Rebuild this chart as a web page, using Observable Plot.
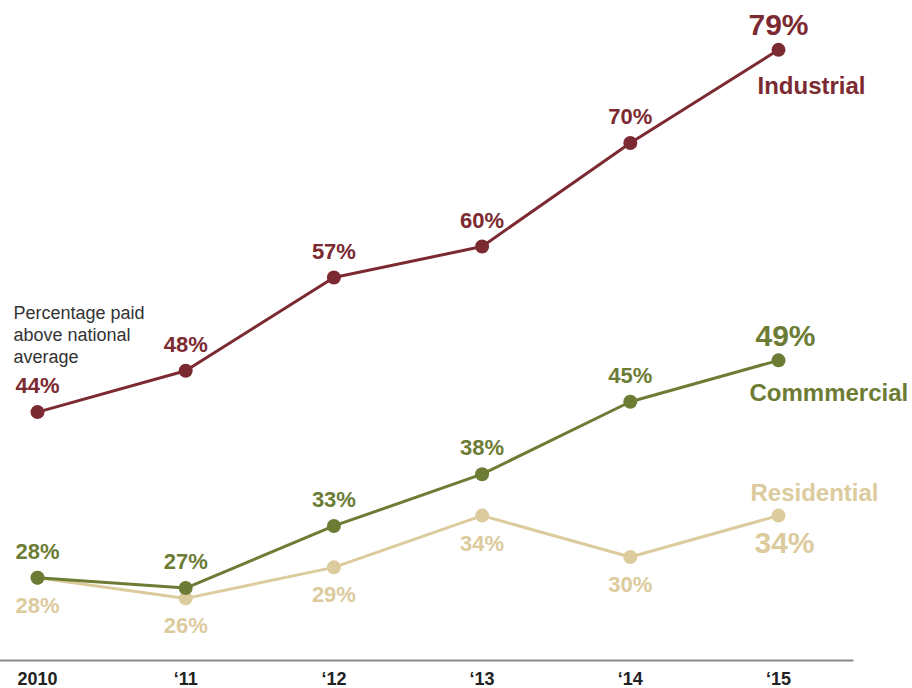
<!DOCTYPE html>
<html>
<head>
<meta charset="utf-8">
<script src="https://cdn.jsdelivr.net/npm/d3@7"></script>
<script src="https://cdn.jsdelivr.net/npm/@observablehq/plot@0.6"></script>
<style>
  html, body { margin: 0; padding: 0; background: #fff; }
  #chart svg { display: block; }
</style>
</head>
<body>
<div id="chart"></div>
<script>
const years = [2010, 2011, 2012, 2013, 2014, 2015];
const yearLabels = ["2010", "\u201811", "\u201812", "\u201813", "\u201814", "\u201815"];
const industrial = [44, 48, 57, 60, 70, 79];
const commercial = [28, 27, 33, 38, 45, 49];
const residential = [28, 26, 29, 34, 30, 34];
const seriesNames = ["Industrial", "Commmercial", "Residential"];
const seriesColors = ["#7c2a31", "#6d7c35", "#dccb9d"];
const annotation = "Percentage paid\nabove national\naverage";

const toRows = (vals, name) => years.map((yr, i) => ({year: yr, value: vals[i], series: name}));
const ind = toRows(industrial, seriesNames[0]);
const com = toRows(commercial, seriesNames[1]);
const res = toRows(residential, seriesNames[2]);
const last = years[years.length - 1];
const notLast = d => d.year !== last;
const isLast = d => d.year === last;
const fmt = d => `${d.value}%`;

function seriesMarks(rows, color, labelDy, finalDx, finalDy) {
  return [
    Plot.line(rows, {x: "year", y: "value", stroke: color, strokeWidth: 3}),
    Plot.dot(rows, {x: "year", y: "value", fill: color, r: 7}),
    Plot.text(rows.filter(notLast), {x: "year", y: "value", text: fmt, fill: color, dy: labelDy, fontSize: 22, fontWeight: "bold"}),
    Plot.text(rows.filter(isLast), {x: "year", y: "value", text: fmt, fill: color, dx: finalDx, dy: finalDy, fontSize: 30, fontWeight: "bold"})
  ];
}

const chart = Plot.plot({
  width: 912,
  height: 688,
  marginLeft: 0,
  marginRight: 60,
  marginTop: 39,
  marginBottom: 28,
  style: {fontFamily: "'Liberation Sans', Arial, Helvetica, sans-serif", background: "#fff"},
  x: {type: "linear", domain: [years[0], last], range: [37, 778], label: null, axis: null},
  y: {domain: [20, 80], axis: null, label: null},
  marks: [
    Plot.frame({anchor: "bottom", stroke: "#8a8a8a", strokeWidth: 2}),
    Plot.axisX({
      ticks: years,
      tickFormat: (d) => yearLabels[years.indexOf(d)],
      tickSize: 0,
      tickPadding: 12,
      fontSize: 18,
      fontWeight: "bold",
      fill: "#222",
      label: null
    }),
    ...seriesMarks(res, seriesColors[2], 28, 6, 28),
    ...seriesMarks(com, seriesColors[1], -26, 7, -24),
    ...seriesMarks(ind, seriesColors[0], -26, 0, -24),
    Plot.text(ind.filter(isLast), {x: "year", y: "value", text: () => seriesNames[0], fill: seriesColors[0], textAnchor: "start", dx: -21, dy: 36, fontSize: 24, fontWeight: "bold"}),
    Plot.text(com.filter(isLast), {x: "year", y: "value", text: () => seriesNames[1], fill: seriesColors[1], textAnchor: "start", dx: -29, dy: 33, fontSize: 24, fontWeight: "bold"}),
    Plot.text(res.filter(isLast), {x: "year", y: "value", text: () => seriesNames[2], fill: seriesColors[2], textAnchor: "start", dx: -28, dy: -22, fontSize: 24, fontWeight: "bold"}),
    Plot.text([annotation], {frameAnchor: "top-left", textAnchor: "start", lineAnchor: "top", dx: 13, dy: 264, fontSize: 18, lineHeight: 1.22, fill: "#333"})
  ]
});
document.getElementById("chart").appendChild(chart);
</script>
</body>
</html>
